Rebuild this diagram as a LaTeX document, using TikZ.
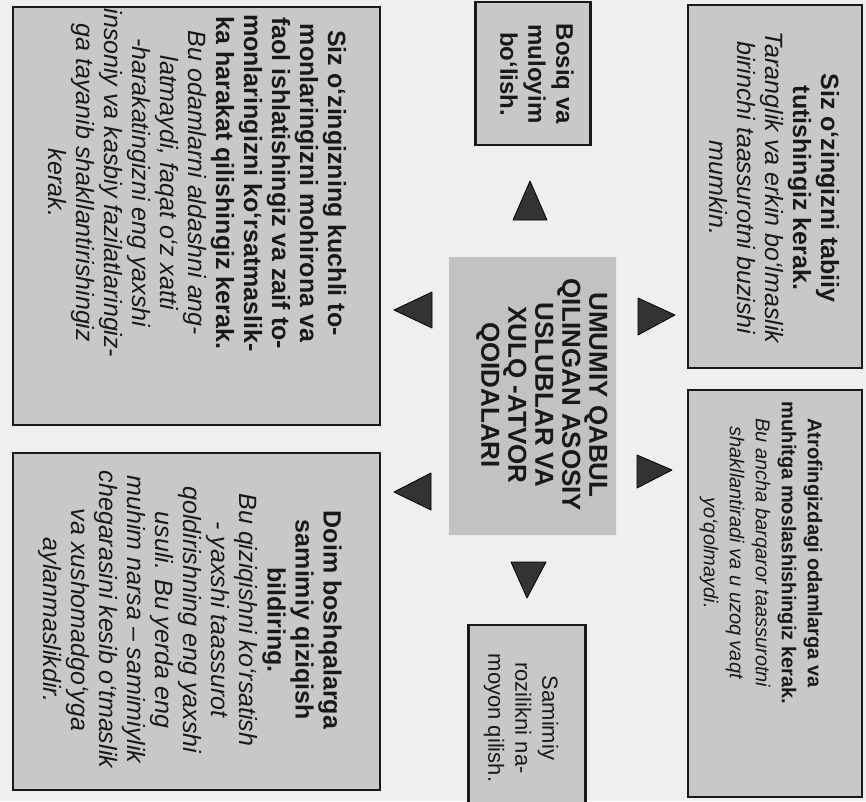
\documentclass[tikz,border=0pt]{standalone}
\usepackage{fontspec}
\setmainfont{Liberation Sans}
\usetikzlibrary{shapes.misc}
\definecolor{bgpaper}{HTML}{EFEFED}
\definecolor{boxgray}{HTML}{C8C8C6}
\definecolor{centergray}{HTML}{C2C2C0}
\definecolor{trigray}{HTML}{333333}
\newcommand\Bl[1]{\textbf{#1}}
\newcommand\Il[1]{\textit{#1}}
\tikzset{
  box/.style={chamfered rectangle, chamfered rectangle xsep=9pt, chamfered rectangle ysep=9pt,
    draw=black!90, line width=2.2pt, fill=boxgray, inner sep=0pt},
  cbox/.style={chamfered rectangle, chamfered rectangle xsep=10pt, chamfered rectangle ysep=10pt,
    fill=centergray, inner sep=0pt},
  tri/.style={fill=trigray, draw=black, line width=0.8pt, line join=round},
  txt/.style={rotate=-90, align=center, inner sep=0pt, text=black!90},
  bodyfont/.style={font=\fontsize{25}{28}\selectfont},
}
\begin{document}
\begin{tikzpicture}[x=1pt,y=-1pt]
\useasboundingbox (0,0) rectangle (866,801);
\clip (0,0) rectangle (866,801);
\fill[bgpaper] (0,0) rectangle (866,801);

% boxes (image coordinates)
\node[box, minimum width=174pt, minimum height=363pt] (tr) at (775,186.5) {};
\node[box, minimum width=174pt, minimum height=407pt] (br) at (775,593.5) {};
\node[box, minimum width=367pt, minimum height=418pt] (tl) at (196.5,216) {};
\node[box, minimum width=367pt, minimum height=337pt] (bl) at (196.5,621.5) {};
\node[box, minimum width=115pt, minimum height=143pt] (ts) at (533,73.5) {};
\node[box, minimum width=117pt, minimum height=180pt] (bs) at (527,715) {};
\node[cbox, minimum width=167pt, minimum height=278pt] (c) at (532.5,396) {};

% texts
\node[txt, font=\fontsize{26}{27}\selectfont\bfseries] (ct) at (542,395)
  {UMUMIY QABUL\\QILINGAN ASOSIY\\USLUBLAR VA\\XULQ -ATVOR\\QOIDALARI};

\node[txt, bodyfont] (trt) at (774,188)
  {\Bl{Siz o‘zingizni tabiiy}\\\Bl{tutishingiz kerak.}\\\Il{Taranglik va erkin bo‘lmaslik}\\\Il{birinchi taassurotni buzishi}\\\Il{mumkin.}};

\node[txt, font=\fontsize{20}{26}\selectfont] (brt) at (761,553)
  {\Bl{Atrofingizdagi odamlarga va}\\\Bl{muhitga moslashishingiz kerak.}\\\Il{Bu ancha barqaror taassurotni}\\\Il{shakllantiradi va u uzoq vaqt}\\\Il{yo‘qolmaydi.}};

\node[txt, bodyfont] (tlt) at (197,183)
  {\Bl{Siz o‘zingizning kuchli to-}\\\Bl{monlaringizni mohirona va}\\\Bl{faol ishlatishingiz va zaif to-}\\\Bl{monlaringizni ko‘rsatmaslik-}\\\Bl{ka harakat qilishingiz kerak.}\\\Il{Bu odamlarni aldashni ang-}\\\Il{latmaydi, faqat o‘z xatti}\\\Il{-harakatingizni eng yaxshi}\\\Il{insoniy va kasbiy fazilatlaringiz-}\\\Il{ga tayanib shakllantirishingiz}\\\Il{kerak.}};

\node[txt, bodyfont] (blt) at (190,620)
  {\Bl{Doim boshqalarga}\\\Bl{samimiy qiziqish}\\\Bl{bildiring.}\\\Il{Bu qiziqishni ko‘rsatish}\\\Il{- yaxshi taassurot}\\\Il{qoldirishning eng yaxshi}\\\Il{usuli. Bu yerda eng}\\\Il{muhim narsa – samimiylik}\\\Il{chegarasini kesib o‘tmaslik}\\\Il{va xushomadgo‘yga}\\\Il{aylanmaslikdir.}};

\node[txt, font=\fontsize{24}{28}\selectfont\bfseries] (tst) at (537,74)
  {Bosiq va\\muloyim\\bo‘lish.};

\node[txt, font=\fontsize{22}{27}\selectfont] (bst) at (521,718)
  {Samimiy\\rozilikni na-\\moyon qilish.};

% arrow triangles
\coordinate (u1) at (530,181); \coordinate (u2) at (513,220); \coordinate (u3) at (547,220);
\fill[tri] (u1) -- (u2) -- (u3) -- cycle;
\coordinate (d1) at (527,598); \coordinate (d2) at (511,562); \coordinate (d3) at (546,562);
\fill[tri] (d1) -- (d2) -- (d3) -- cycle;
\coordinate (l1) at (394,310); \coordinate (l2) at (432,292); \coordinate (l3) at (432,328);
\fill[tri] (l1) -- (l2) -- (l3) -- cycle;
\coordinate (m1) at (394,492); \coordinate (m2) at (431,473); \coordinate (m3) at (431,510);
\fill[tri] (m1) -- (m2) -- (m3) -- cycle;
\coordinate (r1) at (675,315); \coordinate (r2) at (638,298); \coordinate (r3) at (638,335);
\fill[tri] (r1) -- (r2) -- (r3) -- cycle;
\coordinate (s1) at (672,470); \coordinate (s2) at (637,455); \coordinate (s3) at (637,488);
\fill[tri] (s1) -- (s2) -- (s3) -- cycle;
\end{tikzpicture}
\end{document}
